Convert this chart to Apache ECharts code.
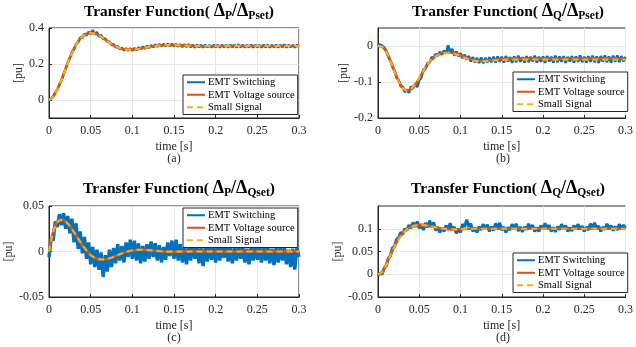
<!DOCTYPE html>
<html>
<head>
<meta charset="utf-8">
<script src="https://cdn.jsdelivr.net/npm/echarts@6/dist/echarts.min.js"></script>
<style>
  html, body { margin: 0; padding: 0; background: #fff; }
  #chart { width: 636px; height: 347px; }
</style>
</head>
<body>
<div id="chart"></div>
<script>
// sample steps: switching model is read every 2.5 ms, smooth curves every 5 ms
const dtFine = 0.0025;
const dtCoarse = 0.005;

// (a) dP / dPset
const emtSwA = [
  -0.004, 0.01, 0.018, 0.041, 0.057, 0.088, 0.107, 0.146, 0.171, 0.209,
  0.231, 0.266, 0.281, 0.312, 0.319, 0.347, 0.345, 0.368, 0.358, 0.379,
  0.366, 0.389, 0.364, 0.378, 0.352, 0.362, 0.338, 0.343, 0.322, 0.326,
  0.305, 0.311, 0.291, 0.299, 0.281, 0.291, 0.275, 0.287, 0.273, 0.287,
  0.274, 0.289, 0.276, 0.293, 0.281, 0.297, 0.285, 0.301, 0.289, 0.305,
  0.293, 0.309, 0.296, 0.311, 0.298, 0.312, 0.298, 0.313, 0.299, 0.312,
  0.298, 0.311, 0.297, 0.31, 0.295, 0.309, 0.295, 0.31, 0.293, 0.307,
  0.292, 0.307, 0.293, 0.306, 0.292, 0.307, 0.293, 0.305, 0.292, 0.306,
  0.293, 0.307, 0.292, 0.306, 0.294, 0.305, 0.292, 0.307, 0.293, 0.306,
  0.292, 0.308, 0.293, 0.306, 0.292, 0.305, 0.293, 0.307, 0.292, 0.306,
  0.293, 0.305, 0.292, 0.307, 0.293, 0.306, 0.292, 0.305, 0.293, 0.307,
  0.292, 0.306, 0.293, 0.308, 0.292, 0.306, 0.293, 0.305, 0.292, 0.306,
  0.296
];
const emtVsA = [
  0, 0.02, 0.06, 0.11, 0.175, 0.235, 0.285, 0.325, 0.353, 0.367,
  0.372, 0.37, 0.36, 0.345, 0.328, 0.312, 0.298, 0.288, 0.282, 0.28,
  0.28, 0.282, 0.286, 0.291, 0.295, 0.299, 0.302, 0.304, 0.305, 0.305,
  0.305, 0.304, 0.303, 0.302, 0.301, 0.3, 0.3, 0.299, 0.299, 0.299,
  0.3, 0.3, 0.3, 0.3, 0.3, 0.3, 0.3, 0.3, 0.3, 0.3,
  0.3, 0.3, 0.3, 0.3, 0.3, 0.3, 0.3, 0.3, 0.3, 0.3,
  0.3
];
const smallSigA = [
  0, 0.019, 0.058, 0.109, 0.173, 0.233, 0.284, 0.324, 0.352, 0.366,
  0.371, 0.369, 0.359, 0.344, 0.327, 0.311, 0.298, 0.288, 0.282, 0.28,
  0.28, 0.282, 0.286, 0.291, 0.295, 0.299, 0.302, 0.304, 0.305, 0.305,
  0.305, 0.304, 0.303, 0.302, 0.301, 0.3, 0.3, 0.3, 0.3, 0.3,
  0.3, 0.3, 0.3, 0.3, 0.3, 0.3, 0.3, 0.3, 0.3, 0.3,
  0.3, 0.3, 0.3, 0.3, 0.3, 0.3, 0.3, 0.3, 0.3, 0.3,
  0.3
];

// (b) dQ / dPset
const emtSwB = [
  0.002, 0.004, 0.001, -0.004, -0.013, -0.03, -0.041, -0.058, -0.068, -0.088,
  -0.095, -0.112, -0.113, -0.128, -0.121, -0.13, -0.112, -0.118, -0.106, -0.114,
  -0.095, -0.088, -0.065, -0.064, -0.047, -0.046, -0.031, -0.033, -0.022, -0.027,
  -0.016, -0.024, -0.013, -0.021, 0.002, -0.017, -0.008, -0.027, -0.015, -0.029,
  -0.02, -0.034, -0.024, -0.038, -0.028, -0.043, -0.031, -0.046, -0.033, -0.047,
  -0.032, -0.048, -0.033, -0.046, -0.031, -0.045, -0.03, -0.046, -0.029, -0.044,
  -0.03, -0.046, -0.028, -0.043, -0.031, -0.047, -0.029, -0.045, -0.027, -0.044,
  -0.031, -0.046, -0.028, -0.045, -0.03, -0.043, -0.027, -0.046, -0.03, -0.044,
  -0.029, -0.047, -0.028, -0.043, -0.03, -0.046, -0.027, -0.045, -0.029, -0.044,
  -0.028, -0.047, -0.03, -0.043, -0.028, -0.046, -0.029, -0.044, -0.026, -0.045,
  -0.03, -0.046, -0.028, -0.044, -0.027, -0.045, -0.029, -0.047, -0.028, -0.043,
  -0.026, -0.045, -0.029, -0.046, -0.027, -0.044, -0.026, -0.045, -0.028, -0.043,
  -0.03
];
const emtVsB = [
  0, -0.002, -0.015, -0.04, -0.07, -0.097, -0.116, -0.124, -0.12, -0.108,
  -0.09, -0.07, -0.052, -0.038, -0.028, -0.022, -0.019, -0.018, -0.019, -0.022,
  -0.026, -0.031, -0.035, -0.038, -0.04, -0.041, -0.041, -0.04, -0.039, -0.038,
  -0.037, -0.036, -0.036, -0.035, -0.035, -0.035, -0.035, -0.035, -0.035, -0.035,
  -0.035, -0.035, -0.035, -0.035, -0.035, -0.035, -0.035, -0.035, -0.035, -0.035,
  -0.035, -0.035, -0.035, -0.035, -0.035, -0.035, -0.035, -0.035, -0.035, -0.035,
  -0.035
];
const smallSigB = [
  0, -0.002, -0.016, -0.042, -0.072, -0.099, -0.117, -0.124, -0.119, -0.106,
  -0.088, -0.068, -0.051, -0.037, -0.028, -0.023, -0.02, -0.02, -0.021, -0.024,
  -0.028, -0.033, -0.037, -0.04, -0.042, -0.042, -0.042, -0.041, -0.04, -0.039,
  -0.039, -0.038, -0.038, -0.038, -0.038, -0.038, -0.038, -0.038, -0.038, -0.038,
  -0.038, -0.038, -0.038, -0.038, -0.038, -0.038, -0.038, -0.038, -0.038, -0.038,
  -0.038, -0.038, -0.038, -0.038, -0.038, -0.038, -0.038, -0.038, -0.038, -0.038,
  -0.038
];

// (c) dP / dQset
const emtSwC = [
  -0.006, 0.014, 0.012, 0.033, 0.027, 0.041, 0.029, 0.042, 0.025, 0.039,
  0.02, 0.036, 0.01, 0.031, 0.003, 0.022, -0.002, 0.016, -0.008, 0.01,
  -0.014, 0.005, -0.017, 0.002, -0.02, -0.001, -0.028, -0.004, -0.022, 0.002,
  -0.017, 0.004, -0.013, 0.008, -0.01, 0.006, -0.012, 0.01, -0.006, 0.013,
  -0.008, 0.012, -0.01, 0.009, -0.013, 0.006, -0.011, 0.008, -0.008, 0.011,
  -0.006, 0.009, -0.01, 0.007, -0.012, 0.005, -0.009, 0.01, -0.005, 0.012,
  -0.008, 0.013, -0.01, 0.008, -0.012, 0.004, -0.014, 0.006, -0.01, 0.009,
  -0.008, 0.007, -0.013, 0.004, -0.016, 0.005, -0.011, 0.008, -0.009, 0.006,
  -0.012, 0.005, -0.01, 0.008, -0.007, 0.009, -0.011, 0.006, -0.013, 0.004,
  -0.01, 0.007, -0.008, 0.006, -0.012, 0.003, -0.014, 0.005, -0.01, 0.007,
  -0.009, 0.004, -0.012, 0.006, -0.01, 0.005, -0.013, 0.003, -0.015, 0.004,
  -0.012, 0.006, -0.01, 0.004, -0.014, 0.002, -0.017, 0.003, -0.02, 0.004,
  -0.006
];
const emtVsC = [
  0, 0.022, 0.033, 0.035, 0.033, 0.028, 0.021, 0.014, 0.007, 0.001,
  -0.004, -0.007, -0.0085, -0.0088, -0.0082, -0.0068, -0.005, -0.003, -0.0012, 0.0002,
  0.0012, 0.0017, 0.0019, 0.0018, 0.0015, 0.0011, 0.0007, 0.0003, 0, -0.0002,
  -0.0002, -0.0001, 0, 0, 0, 0, 0, 0, 0, 0,
  0, 0, 0, 0, 0, 0, 0, 0, 0, 0,
  0, 0, 0, 0, 0, 0, 0, 0, 0, 0,
  0
];
const smallSigC = [
  0, 0.021, 0.032, 0.0345, 0.0328, 0.028, 0.0212, 0.0142, 0.0072, 0.0012,
  -0.0038, -0.0068, -0.0083, -0.0087, -0.0081, -0.0068, -0.005, -0.003, -0.0012, 0.0002,
  0.0012, 0.0017, 0.0019, 0.0018, 0.0015, 0.0011, 0.0007, 0.0003, 0, -0.0002,
  -0.0002, -0.0001, 0, 0, 0, 0, 0, 0, 0, 0,
  0, 0, 0, 0, 0, 0, 0, 0, 0, 0,
  0, 0, 0, 0, 0, 0, 0, 0, 0, 0,
  0
];

// (d) dQ / dQset
const emtSwD = [
  -0.003, 0.002, 0, 0.013, 0.018, 0.035, 0.04, 0.058, 0.06, 0.077,
  0.08, 0.092, 0.088, 0.1, 0.096, 0.108, 0.101, 0.114, 0.104, 0.116,
  0.101, 0.11, 0.097, 0.113, 0.103, 0.118, 0.105, 0.114, 0.096, 0.104,
  0.092, 0.102, 0.094, 0.107, 0.099, 0.112, 0.097, 0.104, 0.09, 0.1,
  0.092, 0.11, 0.104, 0.12, 0.105, 0.111, 0.094, 0.102, 0.092, 0.105,
  0.097, 0.11, 0.1, 0.109, 0.094, 0.105, 0.096, 0.112, 0.102, 0.113,
  0.097, 0.104, 0.092, 0.103, 0.097, 0.11, 0.101, 0.111, 0.095, 0.104,
  0.093, 0.104, 0.098, 0.111, 0.1, 0.108, 0.094, 0.103, 0.094, 0.107,
  0.1, 0.112, 0.101, 0.108, 0.094, 0.103, 0.093, 0.105, 0.098, 0.11,
  0.1, 0.107, 0.094, 0.103, 0.095, 0.107, 0.1, 0.11, 0.099, 0.106,
  0.094, 0.104, 0.097, 0.111, 0.102, 0.113, 0.1, 0.106, 0.094, 0.104,
  0.098, 0.111, 0.101, 0.107, 0.096, 0.105, 0.097, 0.11, 0.1, 0.108,
  0.101
];
const emtVsD = [
  0, 0.005, 0.022, 0.043, 0.062, 0.078, 0.09, 0.099, 0.104, 0.107,
  0.108, 0.108, 0.107, 0.105, 0.103, 0.101, 0.1, 0.099, 0.0985, 0.0985,
  0.099, 0.0995, 0.1, 0.1, 0.1, 0.1, 0.1, 0.1, 0.1, 0.1,
  0.1, 0.1, 0.1, 0.1, 0.1, 0.1, 0.1, 0.1, 0.1, 0.1,
  0.1, 0.1, 0.1, 0.1, 0.1, 0.1, 0.1, 0.1, 0.1, 0.1,
  0.1, 0.1, 0.1, 0.1, 0.1, 0.1, 0.1, 0.1, 0.1, 0.1,
  0.1
];
const smallSigD = [
  0, 0.004, 0.02, 0.041, 0.06, 0.077, 0.089, 0.098, 0.104, 0.107,
  0.108, 0.108, 0.107, 0.105, 0.103, 0.101, 0.1, 0.099, 0.0985, 0.0985,
  0.099, 0.0995, 0.1, 0.1, 0.1, 0.1, 0.1, 0.1, 0.1, 0.1,
  0.1, 0.1, 0.1, 0.1, 0.1, 0.1, 0.1, 0.1, 0.1, 0.1,
  0.1, 0.1, 0.1, 0.1, 0.1, 0.1, 0.1, 0.1, 0.1, 0.1,
  0.1, 0.1, 0.1, 0.1, 0.1, 0.1, 0.1, 0.1, 0.1, 0.1,
  0.1
];

// axis limits and labelled ticks
const yMins = [-0.1, -0.2, -0.05, -0.05];
const yMaxs = [0.4, 0.05, 0.05, 0.15];
const yTicks = [[0, 0.2, 0.4], [-0.2, -0.1, 0], [-0.05, 0, 0.05], [-0.05, 0, 0.05, 0.1]];
const xTicks = [0, 0.05, 0.1, 0.15, 0.2, 0.25, 0.3];
const titleOut = ['P', 'Q', 'P', 'Q'];
const titleIn = ['Pset', 'Pset', 'Qset', 'Qset'];
const captions = ['(a)', '(b)', '(c)', '(d)'];
const names = ['EMT Switching', 'EMT Voltage source', 'Small Signal'];

const swData = [emtSwA, emtSwB, emtSwC, emtSwD];
const vsData = [emtVsA, emtVsB, emtVsC, emtVsD];
const ssData = [smallSigA, smallSigB, smallSigC, smallSigD];

const FONT = 'Liberation Serif';
const AX = '#262626';

const grids = [
  { left: 49, top: 28, width: 250, height: 90 },
  { left: 378, top: 28, width: 250, height: 90 },
  { left: 49, top: 206, width: 250, height: 91 },
  { left: 378, top: 206, width: 250, height: 91 }
];
const legendPos = [
  { left: 183, top: 75 },
  { left: 513, top: 72 },
  { left: 183, top: 208 },
  { left: 513, top: 253 }
];
const yNameGap = [22, 28, 33, 29];
// switching trace is drawn thicker where its ripple is dense
const swWidth = [2.4, 2.6, 3.4, 3];

const toPairs = (arr, dt) => arr.map((v, i) => [+(i * dt).toFixed(4), v]);

const chart = echarts.init(document.getElementById('chart'), null, { renderer: 'canvas' });

const option = {
  animation: false,
  backgroundColor: '#fff',
  title: grids.map((g, i) => ({
    left: g.left + g.width / 2,
    top: i < 2 ? -4 : 173,
    textAlign: 'center',
    text: `{n|Transfer Function( }{d|Δ}{s|${titleOut[i]}}{d|/Δ}{s|${titleIn[i]}}{n|)}`,
    textStyle: {
      rich: {
        n: { fontFamily: FONT, fontSize: 15.5, fontWeight: 'bold', color: '#000', lineHeight: 18 },
        d: { fontFamily: FONT, fontSize: 18, color: '#000', lineHeight: 18 },
        s: { fontFamily: FONT, fontSize: 11.5, fontWeight: 'bold', color: '#000', padding: [9, 0, 0, 0] }
      }
    }
  })),
  grid: grids.map(g => Object.assign({ show: true, borderColor: AX, borderWidth: 1 }, g)),
  legend: legendPos.map(p => ({
    data: names,
    left: p.left,
    top: p.top,
    orient: 'vertical',
    itemWidth: 18,
    itemHeight: 8,
    itemGap: 0,
    padding: [1, 3, 1, 3],
    borderColor: AX,
    borderWidth: 1,
    borderRadius: 0,
    backgroundColor: '#fff',
    selectedMode: false,
    itemStyle: { opacity: 0 },
    lineStyle: { width: 2 },
    textStyle: { fontFamily: FONT, fontSize: 10.5, color: '#000', lineHeight: 12.5, padding: [0, 0, 0, -2] }
  })),
  xAxis: grids.map((g, i) => ({
    gridIndex: i,
    type: 'value',
    min: 0,
    max: 0.3,
    interval: 0.05,
    name: 'time [s]',
    nameLocation: 'middle',
    nameGap: 23,
    nameTextStyle: { fontFamily: FONT, fontSize: 12, color: AX },
    axisLine: { show: true, onZero: false, lineStyle: { color: AX, width: 1 } },
    axisTick: { show: true, inside: true, length: 3, lineStyle: { color: AX } },
    axisLabel: { fontFamily: FONT, fontSize: 12, color: AX, margin: 7, customValues: xTicks },
    splitLine: { show: true, lineStyle: { color: '#e6e6e6', width: 1 } }
  })),
  yAxis: grids.map((g, i) => ({
    gridIndex: i,
    type: 'value',
    min: yMins[i],
    max: yMaxs[i],
    name: '[pu]',
    nameLocation: 'middle',
    nameGap: yNameGap[i],
    nameTextStyle: { fontFamily: FONT, fontSize: 12, color: AX },
    axisLine: { show: true, onZero: false, lineStyle: { color: AX, width: 1 } },
    axisTick: { show: true, inside: true, length: 3, lineStyle: { color: AX }, customValues: yTicks[i] },
    axisLabel: { fontFamily: FONT, fontSize: 12, color: AX, margin: 5, customValues: yTicks[i] },
    splitLine: { show: true, lineStyle: { color: '#e6e6e6', width: 1 } }
  })),
  graphic: grids.map((g, i) => ({
    type: 'text',
    x: g.left + g.width / 2,
    y: g.top + g.height + 41,
    style: {
      text: captions[i],
      fontFamily: FONT,
      fontSize: 12,
      fill: AX,
      align: 'center',
      verticalAlign: 'middle'
    }
  })),
  series: []
};

for (let i = 0; i < 4; i++) {
  option.series.push({
    name: names[0], type: 'line', xAxisIndex: i, yAxisIndex: i,
    data: toPairs(swData[i], dtFine), symbol: 'none',
    lineStyle: { color: '#0072BD', width: swWidth[i] }, itemStyle: { color: '#0072BD' }, z: 2
  });
  option.series.push({
    name: names[1], type: 'line', xAxisIndex: i, yAxisIndex: i,
    data: toPairs(vsData[i], dtCoarse), symbol: 'none', smooth: 0.3,
    lineStyle: { color: '#D95319', width: 2.6 }, itemStyle: { color: '#D95319' }, z: 3
  });
  option.series.push({
    name: names[2], type: 'line', xAxisIndex: i, yAxisIndex: i,
    data: toPairs(ssData[i], dtCoarse), symbol: 'none', smooth: 0.3,
    lineStyle: { color: '#EDB120', width: 2.2, type: [6, 4] }, itemStyle: { color: '#EDB120' }, z: 4
  });
}

chart.setOption(option);
</script>
</body>
</html>
